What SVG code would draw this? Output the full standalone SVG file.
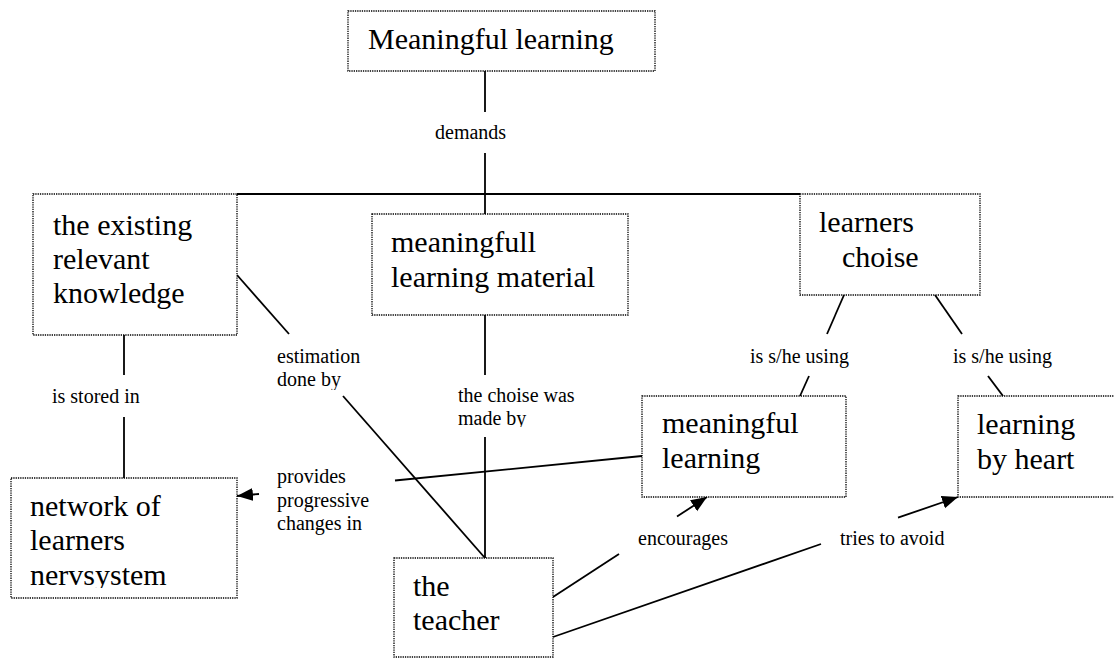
<svg xmlns="http://www.w3.org/2000/svg" width="1114" height="659" viewBox="0 0 1114 659">
<style>
.box{fill:#fff;stroke:#000;stroke-width:1.3;stroke-dasharray:1.3 1}
.big{font-family:"Liberation Serif","Times New Roman",serif;font-size:30px;fill:#000}
.sm{font-family:"Liberation Serif","Times New Roman",serif;font-size:20px;fill:#000}
.ln{stroke:#000;stroke-width:1.8;fill:none}
</style>
<defs>
<marker id="ah" markerUnits="userSpaceOnUse" markerWidth="17" markerHeight="14" refX="16" refY="6.5" orient="auto">
<polygon points="0,0 16,6.5 0,13" fill="#000"/>
</marker>
<clipPath id="c1"><rect x="270" y="340" width="120" height="50"/></clipPath>
<clipPath id="c2"><rect x="450" y="380" width="130" height="47"/></clipPath>
<clipPath id="c3"><rect x="11" y="478" width="226" height="110"/></clipPath>
</defs>
<rect width="1114" height="659" fill="#fff"/>
<g id="connectors">
<line class="ln" x1="485" y1="71" x2="485" y2="112"/>
<line class="ln" x1="485" y1="153" x2="485" y2="214"/>
<line class="ln" x1="237" y1="194" x2="800" y2="194"/>
<line class="ln" x1="124" y1="335" x2="124" y2="375"/>
<line class="ln" x1="124" y1="417" x2="124" y2="478"/>
<line class="ln" x1="237" y1="275" x2="289" y2="334"/>
<line class="ln" x1="343" y1="396" x2="485" y2="558"/>
<line class="ln" x1="485" y1="315" x2="485" y2="375"/>
<line class="ln" x1="485" y1="437" x2="485" y2="558"/>
<line class="ln" x1="844" y1="295" x2="827" y2="334"/>
<line class="ln" x1="809" y1="376" x2="800" y2="396"/>
<line class="ln" x1="935" y1="295" x2="962" y2="334"/>
<line class="ln" x1="988" y1="376" x2="1003" y2="396"/>
<line class="ln" x1="642" y1="456" x2="395" y2="480.5"/>
<line class="ln" x1="259" y1="494" x2="237" y2="496" marker-end="url(#ah)"/>
<line class="ln" x1="553" y1="597" x2="619" y2="554"/>
<line class="ln" x1="677" y1="516.5" x2="707" y2="497" marker-end="url(#ah)"/>
<line class="ln" x1="553" y1="637" x2="821" y2="544"/>
<line class="ln" x1="898" y1="517.7" x2="958" y2="497" marker-end="url(#ah)"/>
</g>
<g id="labels">
<text class="sm" x="435" y="139">demands</text>
<text class="sm" x="52" y="403">is stored in</text>
<text class="sm" x="277" y="363">estimation</text>
<text class="sm" x="277" y="386" clip-path="url(#c1)">done by</text>
<text class="sm" x="458" y="402">the choise was</text>
<text class="sm" x="458" y="425" clip-path="url(#c2)">made by</text>
<text class="sm" x="750" y="363">is s/he using</text>
<text class="sm" x="953" y="363">is s/he using</text>
<text class="sm" x="277" y="483">provides</text>
<text class="sm" x="277" y="507">progressive</text>
<text class="sm" x="277" y="530">changes in</text>
<text class="sm" x="638" y="545">encourages</text>
<text class="sm" x="840" y="545">tries to avoid</text>
</g>
<g id="n-top">
<rect class="box" x="348" y="11" width="307" height="60"/>
<text class="big" x="368" y="49">Meaningful learning</text>
</g>
<g id="n-existing">
<rect class="box" x="33" y="194" width="204" height="141"/>
<text class="big" x="53" y="235">the existing</text>
<text class="big" x="53" y="269">relevant</text>
<text class="big" x="53" y="303">knowledge</text>
</g>
<g id="n-material">
<rect class="box" x="372" y="214" width="256" height="101"/>
<text class="big" x="391" y="252">meaningfull</text>
<text class="big" x="391" y="287">learning material</text>
</g>
<g id="n-choise">
<rect class="box" x="800" y="194" width="180" height="101"/>
<text class="big" x="819" y="232">learners</text>
<text class="big" x="842" y="267">choise</text>
</g>
<g id="n-meaningful">
<rect class="box" x="642" y="396" width="204" height="101"/>
<text class="big" x="662" y="433">meaningful</text>
<text class="big" x="662" y="468">learning</text>
</g>
<g id="n-heart">
<rect class="box" x="958" y="396" width="204" height="101"/>
<text class="big" x="977" y="434">learning</text>
<text class="big" x="977" y="469">by heart</text>
</g>
<g id="n-network">
<rect class="box" x="11" y="478" width="226" height="120"/>
<text class="big" x="30" y="516">network of</text>
<text class="big" x="30" y="550">learners</text>
<text class="big" x="30" y="585" clip-path="url(#c3)">nervsystem</text>
</g>
<g id="n-teacher">
<rect class="box" x="394" y="558" width="159" height="99"/>
<text class="big" x="413" y="596">the</text>
<text class="big" x="413" y="630">teacher</text>
</g>
</svg>
